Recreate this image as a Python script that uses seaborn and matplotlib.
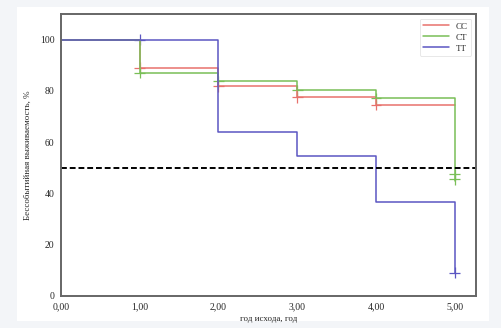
import numpy as np
import pandas as pd
import seaborn as sns
import matplotlib.pyplot as plt
from matplotlib.patches import Rectangle

# Survival curves (time in years, survival in %)
times = [0, 1, 2, 3, 4, 5]
groups = ["CC", "CT", "TT"]
cc_surv = [100, 89.1, 81.8, 77.5, 74.5, 74.5]
ct_surv = [100, 87.1, 83.7, 80.2, 77.2, 45.0]
tt_surv = [100, 100, 63.8, 54.7, 36.6, 9.1]

# Censoring marks
cens_group = ["CC", "CT", "TT", "CC", "CT", "CC", "CT", "CC", "CT", "CT", "CT", "TT"]
cens_time = [1, 1, 1, 2, 2, 3, 3, 4, 4, 5, 5, 5]
cens_surv = [89.1, 87.1, 100, 81.8, 83.7, 77.5, 80.2, 74.5, 77.2, 47.5, 45.5, 9.1]

colors = {"CC": "#e8716c", "CT": "#79bf57", "TT": "#5b56c2"}

df = pd.DataFrame({
    "time": times * 3,
    "surv": cc_surv + ct_surv + tt_surv,
    "group": np.repeat(groups, len(times)),
})
cens = pd.DataFrame({"time": cens_time, "surv": cens_surv, "group": cens_group})

sns.set_style("white")
plt.rcParams["font.family"] = ["Liberation Serif", "DejaVu Serif"]

fig = plt.figure(figsize=(5.02, 3.28), dpi=100)
fig.patch.set_facecolor("#f3f5f8")
fig.patches.append(Rectangle((0.034, 0.02), 0.94, 0.96, transform=fig.transFigure,
                             facecolor="white", edgecolor="none", zorder=-10))
ax = fig.add_axes([0.1215, 0.0976, 0.8265, 0.8594])

sns.lineplot(data=df, x="time", y="surv", hue="group", palette=colors,
             estimator=None, drawstyle="steps-post", linewidth=1.1, ax=ax)
sns.scatterplot(data=cens, x="time", y="surv", hue="group", palette=colors,
                marker="+", s=60, linewidth=0.9, legend=False, ax=ax)

ax.axhline(50, color="black", linestyle=(0, (3, 1.5)), linewidth=1.4)

ax.set_xlim(0, 5.27)
ax.set_ylim(0, 110)
ax.set_xticks(range(6))
ax.set_xticklabels([f"{t},00" for t in range(6)], fontsize=7)
ax.set_yticks(range(0, 101, 20))
ax.set_yticklabels([str(v) for v in range(0, 101, 20)], fontsize=7)
ax.tick_params(axis="both", length=2.5, width=0.8, color="#555555", pad=2)

ax.set_xlabel("год исхода, год", fontsize=6.5, labelpad=3)
ax.set_ylabel("Бессобытийная выживаемость, %", fontsize=6.5, labelpad=6)

for s in ax.spines.values():
    s.set_color("#666666")
    s.set_linewidth(1.4)

leg = ax.legend(loc="upper right", fontsize=6.5, frameon=True, handlelength=2.8,
                borderpad=0.4, labelspacing=0.3)
leg.get_frame().set_linewidth(0.6)
leg.get_frame().set_edgecolor("#dddddd")

fig.savefig("out.png", dpi=100, facecolor=fig.get_facecolor())
